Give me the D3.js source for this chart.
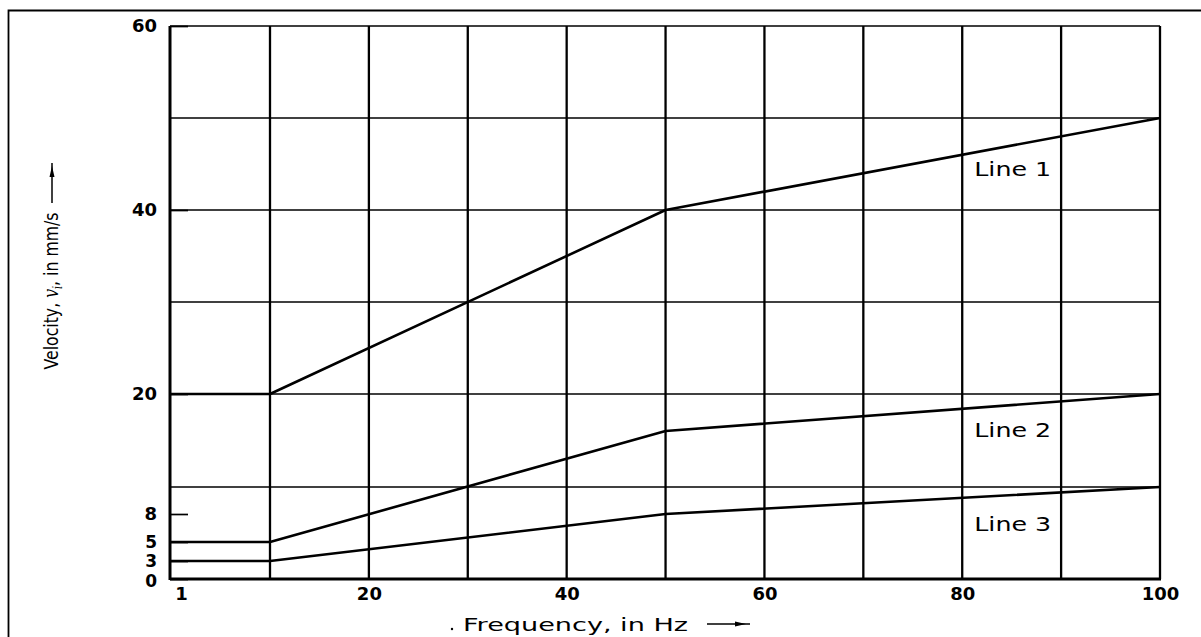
<!DOCTYPE html>
<html>
<head>
<meta charset="utf-8">
<script src="https://cdn.jsdelivr.net/npm/d3@7"></script>
<style>
  body { margin: 0; background: #fff; }
  svg { display: block; }
</style>
</head>
<body>
<script>
// vibration limit lines, frequency in Hz vs velocity in mm/s
const freq = [1, 10, 50, 100];
const line1 = [20, 20, 40, 50];
const line2 = [5, 5, 15, 20];
const line3 = [3, 3, 8, 10];
const seriesNames = ["Line 1", "Line 2", "Line 3"];

const xTicks = [1, 20, 40, 60, 80, 100];
const yTicks = [0, 3, 5, 8, 20, 40, 60];
const xGrid = [10, 20, 30, 40, 50, 60, 70, 80, 90, 100];
const yGrid = [10, 20, 30, 40, 50, 60];

const width = 1201, height = 637;
const plotL = 170, plotR = 1160, plotT = 26, plotB = 579;

// the figure is a schematic: low end of both axes is not to scale
let x = d3.scaleLinear()
    .domain([1, 10, 100])
    .range([plotL, 270, plotR]);

let y = d3.scaleLinear()
    .domain([0, 3, 5, 8, 10, 15, 20, 60])
    .range([plotB, 561, 542, 514, 487, 431, 394, plotT]);

let svg = d3.select("body")
    .append("svg")
    .attr("width", width)
    .attr("height", height)
    .attr("font-family", "DejaVu Sans, sans-serif");

// outer frame (only top and left show)
svg.append("path")
    .attr("d", `M8.5,${height} V10.5 H${width}`)
    .attr("fill", "none")
    .attr("stroke", "#000")
    .attr("stroke-width", 1.8);

// grid
svg.append("g")
    .selectAll("line")
    .data(xGrid)
    .join("line")
    .attr("x1", d => x(d)).attr("x2", d => x(d))
    .attr("y1", plotT).attr("y2", plotB)
    .attr("stroke", "#000")
    .attr("stroke-width", 2.3);

svg.append("g")
    .selectAll("line")
    .data(yGrid)
    .join("line")
    .attr("x1", plotL).attr("x2", plotR)
    .attr("y1", d => y(d)).attr("y2", d => y(d))
    .attr("stroke", "#000")
    .attr("stroke-width", 1.7);

// left and bottom edges are drawn heavier
svg.append("line")
    .attr("x1", plotL).attr("x2", plotL)
    .attr("y1", plotT).attr("y2", plotB + 1)
    .attr("stroke", "#000").attr("stroke-width", 3);
svg.append("line")
    .attr("x1", plotL).attr("x2", plotR + 1)
    .attr("y1", plotB).attr("y2", plotB)
    .attr("stroke", "#000").attr("stroke-width", 3);

// axes
let yAxis = svg.append("g")
    .attr("transform", `translate(${plotL},0)`)
    .call(d3.axisLeft(y).tickValues(yTicks).tickSize(-18).tickPadding(13).tickFormat(d3.format("d")));

let xAxis = svg.append("g")
    .attr("transform", `translate(0,${plotB})`)
    .call(d3.axisBottom(x).tickValues(xTicks).tickSize(0).tickPadding(8).tickFormat(d3.format("d")));

[yAxis, xAxis].forEach(a => {
    a.select(".domain").remove();
    a.selectAll("line").attr("stroke", "#000").attr("stroke-width", 1.7);
    a.selectAll("text")
        .attr("font-family", "DejaVu Sans, sans-serif")
        .attr("font-weight", "bold")
        .attr("font-size", 18)
        .attr("fill", "#000");
});
// the small values are crowded together at the bottom
yAxis.selectAll("text").filter(d => d <= 5).attr("font-size", 17);
yAxis.selectAll("text").filter(d => d === 0).attr("dy", "0.42em");
// the "1" sits a little right of the corner
xAxis.selectAll("text").filter(d => d === 1).attr("dx", 11);

// limit lines
let lineGen = d3.line()
    .x((d, i) => x(freq[i]))
    .y(d => y(d));

svg.append("g")
    .selectAll("path")
    .data([line1, line2, line3])
    .join("path")
    .attr("d", lineGen)
    .attr("fill", "none")
    .attr("stroke", "#000")
    .attr("stroke-width", 2.6)
    .attr("stroke-linejoin", "round");

// line labels
let labelY = [176, 437, 531];
svg.append("g")
    .selectAll("text")
    .data(seriesNames)
    .join("text")
    .attr("x", x(80) + 12)
    .attr("y", (d, i) => labelY[i])
    .attr("font-size", 19)
    .attr("textLength", 77)
    .attr("lengthAdjust", "spacingAndGlyphs")
    .text(d => d);

// x title with arrow
svg.append("circle").attr("cx", 452).attr("cy", 629).attr("r", 1.2).attr("fill", "#000");
svg.append("text")
    .attr("x", 463)
    .attr("y", 631)
    .attr("font-size", 18)
    .attr("textLength", 225)
    .attr("lengthAdjust", "spacingAndGlyphs")
    .text("Frequency, in Hz");
svg.append("line")
    .attr("x1", 707).attr("x2", 750)
    .attr("y1", 624).attr("y2", 624)
    .attr("stroke", "#000").attr("stroke-width", 1.5);
svg.append("path")
    .attr("d", "M735,621.5 L746,624 L735,626.5 Z")
    .attr("fill", "#000");

// y title with arrow
let yt = svg.append("text")
    .attr("transform", "translate(58,291) rotate(-90)")
    .attr("text-anchor", "middle")
    .attr("font-size", 20)
    .attr("textLength", 157)
    .attr("lengthAdjust", "spacingAndGlyphs");
yt.append("tspan").text("Velocity, ");
yt.append("tspan").attr("font-family", "DejaVu Serif, serif").attr("font-style", "italic").text("v");
yt.append("tspan").attr("font-family", "DejaVu Serif, serif").attr("font-style", "italic")
    .attr("font-size", 12).attr("dy", 4).text("i");
yt.append("tspan").attr("dy", -4).text(", in mm/s");

svg.append("line")
    .attr("x1", 52).attr("x2", 52)
    .attr("y1", 203).attr("y2", 163)
    .attr("stroke", "#000").attr("stroke-width", 1.5);
svg.append("path")
    .attr("d", "M49.5,177 L52,166 L54.5,177 Z")
    .attr("fill", "#000");
</script>
</body>
</html>
